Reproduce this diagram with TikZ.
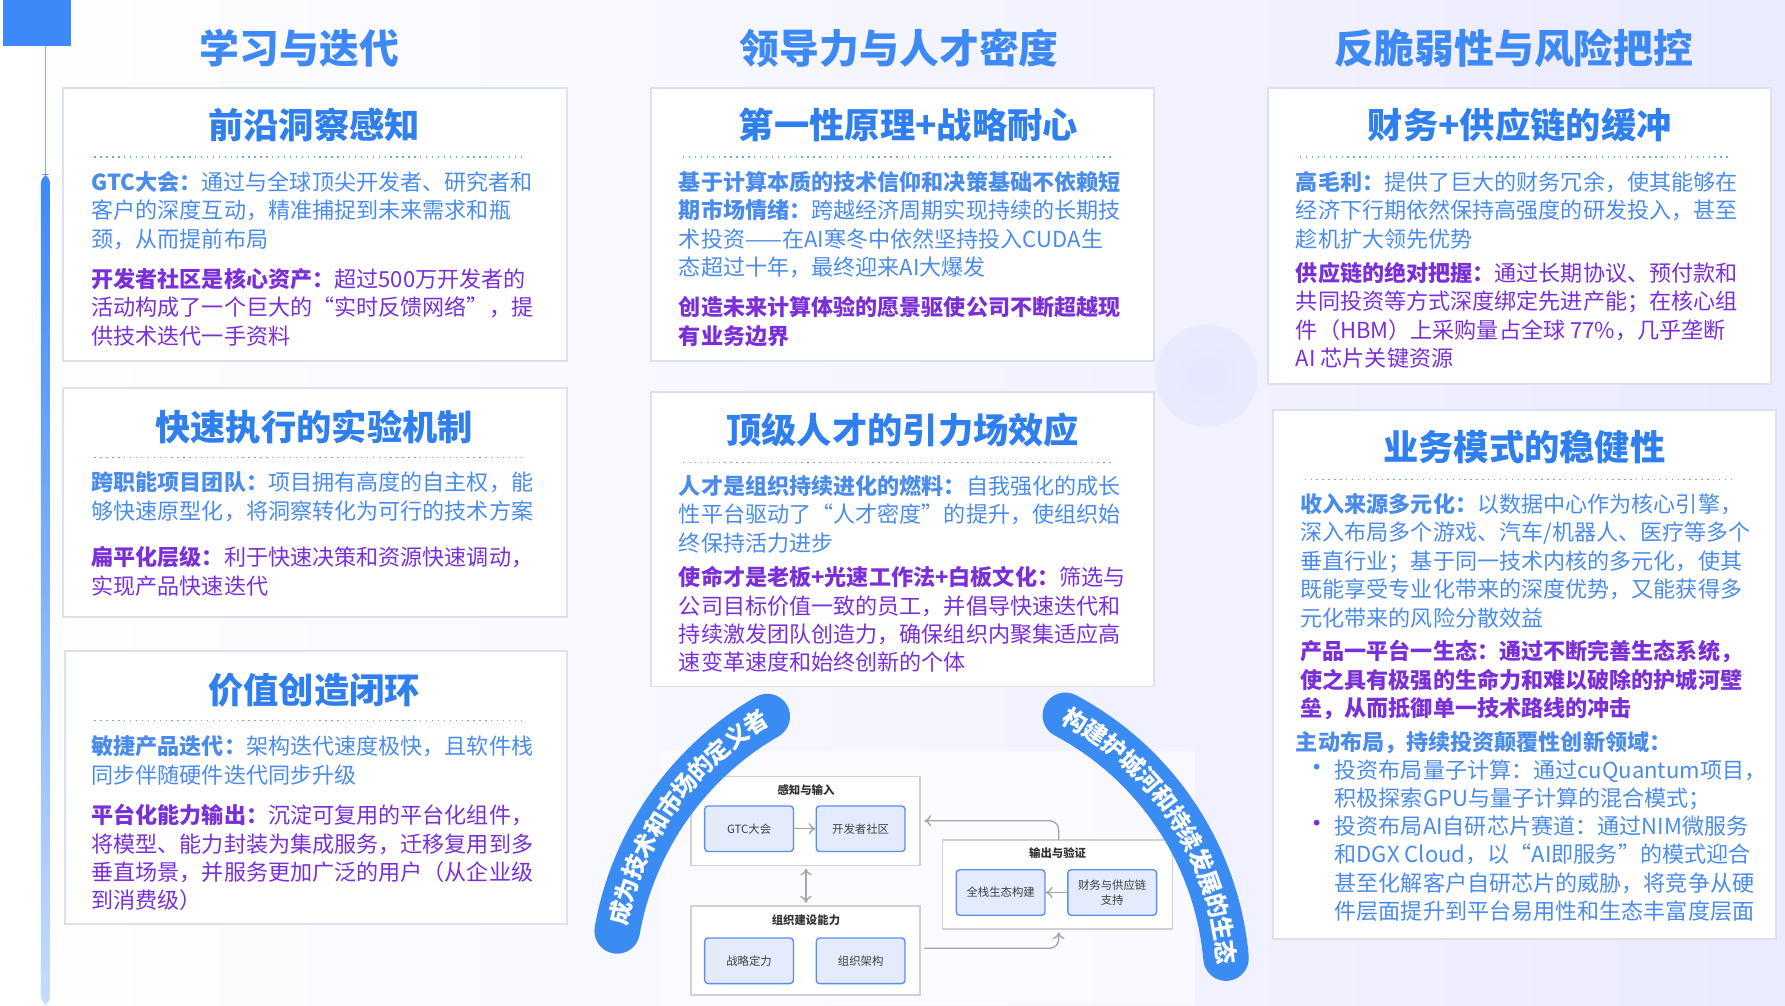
\documentclass[tikz,border=0pt]{standalone}
\usepackage{fontspec}
\setmainfont{Noto Sans CJK SC}
\usetikzlibrary{arrows.meta,decorations.text}

\definecolor{titleblue}{HTML}{3D8AF7}
\definecolor{headblue}{HTML}{2F7FEE}
\definecolor{txtblue}{HTML}{4A8CEB}
\definecolor{txtpurp}{HTML}{7A2FD9}
\definecolor{cardline}{HTML}{DCE2EB}
\definecolor{stepfill}{HTML}{E3EBFC}
\definecolor{stepline}{HTML}{5B8EF0}
\definecolor{arcblue}{HTML}{3A8BF2}

\tikzset{
  coltitle/.style={text=titleblue,font=\fontsize{17.5pt}{17.5pt}\selectfont\bfseries},
  card/.style={draw=cardline,fill=white,line width=0.8pt},
  head/.style={text=headblue,font=\fontsize{15.5pt}{15.5pt}\selectfont\bfseries},
  sep/.style={draw=headblue!70,dotted,line width=0.6pt},
  para/.style={anchor=north west,inner sep=0pt,align=left,font=\fontsize{9.7pt}{12.5pt}\selectfont},
  pblue/.style={para,text=txtblue},
  ppurp/.style={para,text=txtpurp},
  grp/.style={draw=black!18,fill=white,line width=0.6pt},
  grptitle/.style={font=\fontsize{5pt}{5pt}\selectfont\bfseries,text=black!80},
  fbox/.style={draw=stepline,fill=stepfill,rounded corners=1.5pt,line width=0.6pt,
    minimum width=39pt,minimum height=20pt,align=center,font=\fontsize{5pt}{6.5pt}\selectfont,text=black!75},
  flow/.style={-{To[length=3pt,width=5pt]},draw=black!35,line width=0.6pt},
  band/.style={draw=arcblue,line width=20pt,line cap=round},
  dot/.style={font=\fontsize{12pt}{12pt}\selectfont,inner sep=0pt}
}

\begin{document}
\begin{tikzpicture}[x=0.5pt,y=-0.5pt]
\useasboundingbox (0,0) rectangle (1568,883);
% background
\shade[left color=white,right color=blue!8!white] (0,0) rectangle (1568,883);
\shade[inner color=blue!10!white,outer color=blue!8!white] (1060,330) circle[radius=45];
\fill[titleblue] (3,0) rectangle (62,40);
\draw[titleblue!70,line width=0.6pt] (40,40) -- (40,883);
\shade[top color=titleblue,bottom color=titleblue!30,rounded corners=4pt] (36,153) rectangle (44,883);

% column titles
\node[coltitle] (t1) at (263,42) {学习与迭代};
\node[coltitle] (t2) at (790,42) {领导力与人才密度};
\node[coltitle] (t3) at (1330,42) {反脆弱性与风险把控};

% left column
\draw[card] (55,77) rectangle (498,317);
\node[head] (h1) at (276,110) {前沿洞察感知};
\draw[sep] (83,138) -- (460,138);
\node[pblue] (p11) at (80,150) {\textbf{GTC大会：}通过与全球顶尖开发者、研究者和\\客户的深度互动，精准捕捉到未来需求和瓶\\颈，从而提前布局};
\node[ppurp] (p12) at (80,235) {\textbf{开发者社区是核心资产：}超过500万开发者的\\活动构成了一个巨大的“实时反馈网络”，提\\供技术迭代一手资料};

\draw[card] (55,341) rectangle (498,542);
\node[head] (h2) at (276,375) {快速执行的实验机制};
\draw[sep] (83,402) -- (460,402);
\node[pblue] (p21) at (80,414) {\textbf{跨职能项目团队：}项目拥有高度的自主权，能\\够快速原型化，将洞察转化为可行的技术方案};
\node[ppurp] (p22) at (80,480) {\textbf{扁平化层级：}利于快速决策和资源快速调动，\\实现产品快速迭代};

\draw[card] (57,572) rectangle (498,812);
\node[head] (h3) at (276,606) {价值创造闭环};
\draw[sep] (83,633) -- (460,633);
\node[pblue] (p31) at (80,646) {\textbf{敏捷产品迭代：}架构迭代速度极快，且软件栈\\同步伴随硬件迭代同步升级};
\node[ppurp] (p32) at (80,706) {\textbf{平台化能力输出：}沉淀可复用的平台化组件，\\将模型、能力封装为集成服务，迁移复用到多\\垂直场景，并服务更加广泛的用户（从企业级\\到消费级）};

% middle column
\draw[card] (572,77) rectangle (1014,317);
\node[head] (h4) at (798,110) {第一性原理+战略耐心};
\draw[sep] (600,138) -- (977,138);
\node[pblue] (p41) at (596,150) {\textbf{基于计算本质的技术信仰和决策基础不依赖短}\\\textbf{期市场情绪：}跨越经济周期实现持续的长期技\\术投资——在AI寒冬中依然坚持投入CUDA生\\态超过十年，最终迎来AI大爆发};
\node[ppurp,font=\fontsize{9.7pt}{12.5pt}\selectfont\bfseries] (p42) at (596,260) {创造未来计算体验的愿景驱使公司不断超越现\\有业务边界};

\draw[card] (572,344) rectangle (1014,603);
\node[head] (h5) at (793,378) {顶级人才的引力场效应};
\draw[sep] (600,406) -- (977,406);
\node[pblue] (p51) at (596,417) {\textbf{人才是组织持续进化的燃料：}自我强化的成长\\性平台驱动了“人才密度”的提升，使组织始\\终保持活力进步};
\node[ppurp] (p52) at (596,497) {\textbf{使命才是老板+光速工作法+白板文化：}筛选与\\公司目标价值一致的员工，并倡导快速迭代和\\持续激发团队创造力，确保组织内聚集适应高\\速变革速度和始终创新的个体};

% right column
\draw[card] (1114,77) rectangle (1556,337);
\node[head] (h6) at (1335,110) {财务+供应链的缓冲};
\draw[sep] (1142,138) -- (1519,138);
\node[pblue] (p61) at (1138,150) {\textbf{高毛利：}提供了巨大的财务冗余，使其能够在\\经济下行期依然保持高强度的研发投入，甚至\\趁机扩大领先优势};
\node[ppurp] (p62) at (1138,230) {\textbf{供应链的绝对把握：}通过长期协议、预付款和\\共同投资等方式深度绑定先进产能；在核心组\\件（HBM）上采购量占全球 77\%，几乎垄断\\AI 芯片关键资源};

\draw[card] (1118,360) rectangle (1560,825);
\node[head] (h7) at (1339,393) {业务模式的稳健性};
\draw[sep] (1146,421) -- (1523,421);
\node[pblue] (p71) at (1142,433) {\textbf{收入来源多元化：}以数据中心作为核心引擎，\\深入布局多个游戏、汽车/机器人、医疗等多个\\垂直行业；基于同一技术内核的多元化，使其\\既能享受专业化带来的深度优势，又能获得多\\元化带来的风险分散效益};
\node[ppurp,font=\fontsize{9.7pt}{12.5pt}\selectfont\bfseries] (p72) at (1142,562) {产品一平台一生态：通过不断完善生态系统，\\使之具有极强的生命力和难以破除的护城河壁\\垒，从而抵御单一技术路线的冲击};
\node[pblue,font=\fontsize{9.7pt}{12.5pt}\selectfont\bfseries] (p73) at (1138,642) {主动布局，持续投资颠覆性创新领域：};
\node[dot,text=txtblue] (b1) at (1157,677) {•};
\node[pblue] (p74) at (1172,667) {投资布局量子计算：通过cuQuantum项目，\\积极探索GPU与量子计算的混合模式；};
\node[dot,text=txtpurp] (b2) at (1157,726) {•};
\node[pblue] (p75) at (1172,716) {投资布局AI自研芯片赛道：通过NIM微服务\\和DGX Cloud，以“AI即服务”的模式迎合\\甚至化解客户自研芯片的威胁，将竞争从硬\\件层面提升到平台易用性和生态丰富度层面};

% bottom diagram
\fill[white,opacity=0.6] (580,660) rectangle (1050,883);
\draw[grp] (607,682) rectangle (808,760);
\node[grptitle] (g1) at (708,694) {感知与输入};
\node[fbox] (gtc) at (658,728) {GTC大会};
\node[fbox] (dev) at (756,728) {开发者社区};
\draw[grp] (607,796) rectangle (808,874);
\node[grptitle] (g2) at (708,808) {组织建设能力};
\node[fbox] (str) at (658,844) {战略定力};
\node[fbox] (org) at (756,844) {组织架构};
\draw[grp] (828,738) rectangle (1030,816);
\node[grptitle] (g3) at (929,749) {输出与验证};
\node[fbox] (eco) at (879,784) {全栈生态构建};
\node[fbox] (fin) at (977,784) {财务与供应链\\支持};
\coordinate (inR) at (812,721);
\coordinate (outT) at (930,738);
\coordinate (orgR) at (812,833);
\coordinate (outB) at (930,819);
\coordinate (vtop) at (708,763);
\coordinate (vbot) at (708,793);
\draw[flow] (gtc) -- (dev);
\draw[flow] (fin) -- (eco);
\draw[flow,{To[length=3pt,width=5pt]}-{To[length=3pt,width=5pt]}] (vtop) -- (vbot);
\draw[flow,rounded corners=4pt] (outT) |- (inR);
\draw[flow,rounded corners=4pt] (orgR) -| (outB);

% arcs
\begin{scope}[shift={(810,865)},x=0.5pt,y=0.5pt]
  \draw[band] (170:272) arc[start angle=170,end angle=120,radius=272];
  \path[decorate,decoration={text along path,text align=center,raise=-3.8pt,
    text={|\color{white}\bfseries\fontsize{10.5pt}{10.5pt}\selectfont|成为技术和市场的定义者}}]
    (172:272) arc[start angle=172,end angle=117,radius=272];
  \draw[band] (62:268) arc[start angle=62,end angle=5,radius=268];
  \path[decorate,decoration={text along path,text align=center,raise=-3.8pt,
    text={|\color{white}\bfseries\fontsize{10.5pt}{10.5pt}\selectfont|构建护城河和持续发展的生态}}]
    (64:268) arc[start angle=64,end angle=2,radius=268];
\end{scope}
\end{tikzpicture}
\end{document}
